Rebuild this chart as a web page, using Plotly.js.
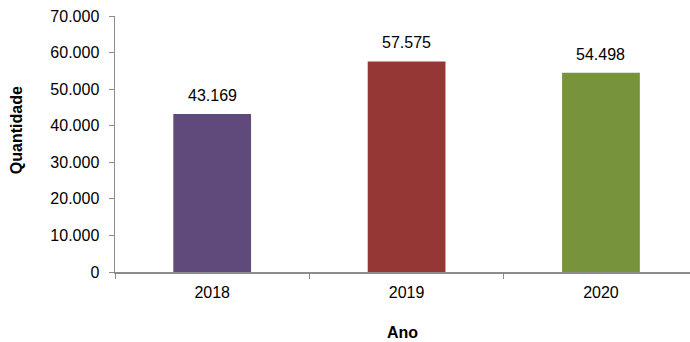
<!DOCTYPE html>
<html>
<head>
<meta charset="utf-8">
<script src="https://cdn.plot.ly/plotly-3.0.1.min.js"></script>
<style>html,body{margin:0;padding:0;background:#fff;}#chart{width:690px;height:342px;}</style>
</head>
<body>
<div id="chart"></div>
<script>
var years = ["2018", "2019", "2020"];
var quantities = [43169, 57575, 54498];
var barColors = ["#604A7B", "#953735", "#77933C"];
var yTicks = [0, 10000, 20000, 30000, 40000, 50000, 60000, 70000];

var fontFam = "Liberation Sans, Arial, sans-serif";

function fmt(v) {
  return String(v).replace(/\B(?=(\d{3})+(?!\d))/g, ".");
}

var trace = {
  type: "bar",
  x: years,
  y: quantities,
  marker: {color: barColors},
  hoverinfo: "none",
  showlegend: false
};

var annotations = years.map(function (yr, i) {
  return {
    x: i, y: quantities[i], xref: "x", yref: "y",
    text: fmt(quantities[i]),
    showarrow: false, xanchor: "center", yanchor: "bottom", yshift: 8,
    font: {family: fontFam, size: 16, color: "#000"}
  };
});
annotations.push({
  xref: "paper", yref: "paper", x: -0.17, y: 0.555,
  xanchor: "center", yanchor: "middle",
  text: "<b>Quantidade</b>", textangle: -90, showarrow: false,
  font: {family: fontFam, size: 16, color: "#000"}
});

var layout = {
  width: 690, height: 342,
  margin: {l: 115, r: 0, t: 16, b: 70},
  paper_bgcolor: "#fff", plot_bgcolor: "#fff",
  separators: ",.",
  bargap: 0.6,
  font: {family: fontFam, size: 16, color: "#000"},
  xaxis: {
    type: "category",
    range: [-0.5, 2.458],
    showline: true, linecolor: "#8c8c8c", linewidth: 1.5,
    ticks: "outside", tickson: "boundaries", ticklen: 5, tickcolor: "#8c8c8c", tickwidth: 1,
    showgrid: false, zeroline: false,
    ticklabelstandoff: 5,
    tickfont: {family: fontFam, size: 16, color: "#000"},
    title: {text: "<b>Ano</b>", standoff: 27, font: {family: fontFam, size: 16, color: "#000"}}
  },
  yaxis: {
    range: [0, 70000],
    tickvals: yTicks,
    tickformat: ",",
    showline: true, linecolor: "#8c8c8c", linewidth: 1.5,
    ticks: "outside", ticklen: 5, tickcolor: "#8c8c8c", tickwidth: 1,
    showgrid: false, zeroline: false,
    tickfont: {family: fontFam, size: 16, color: "#000"},
    ticklabelstandoff: 6
  },
  annotations: annotations
};

Plotly.newPlot("chart", [trace], layout, {displayModeBar: false, staticPlot: true});
</script>
</body>
</html>
